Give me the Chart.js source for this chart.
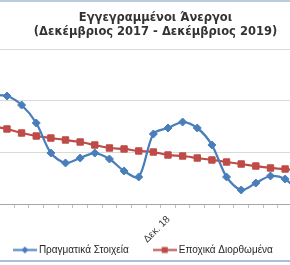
<!DOCTYPE html>
<html lang="el">
<head>
<meta charset="utf-8">
<title>Εγγεγραμμένοι Άνεργοι</title>
<script src="https://cdn.jsdelivr.net/npm/chart.js@4.4.1/dist/chart.umd.min.js"></script>
<style>
    html, body { margin: 0; padding: 0; background: #fff; }
    body { width: 290px; height: 265px; overflow: hidden; }
    .frame {
        position: relative;
        width: 290px;
        height: 258px;
        overflow: hidden;
        border-top: 2px solid #bccbdc;
        border-bottom: 2px solid #a9c0da;
    }
    #unemployedChart { position: absolute; left: -40px; top: 0; }
</style>
</head>
<body>
<div class="frame"><canvas id="unemployedChart" width="391" height="263"></canvas></div>
<script>
// Μήνες Δεκ. 2017 - Δεκ. 2019
const MONTH_LABELS = [
    'Δεκ. 17', 'Ιαν. 18', 'Φεβ. 18', 'Μαρ. 18', 'Απρ. 18', 'Μάι. 18', 'Ιουν. 18',
    'Ιουλ. 18', 'Αυγ. 18', 'Σεπ. 18', 'Οκτ. 18', 'Νοε. 18', 'Δεκ. 18', 'Ιαν. 19',
    'Φεβ. 19', 'Μαρ. 19', 'Απρ. 19', 'Μάι. 19', 'Ιουν. 19', 'Ιουλ. 19', 'Αυγ. 19',
    'Σεπ. 19', 'Οκτ. 19', 'Νοε. 19', 'Δεκ. 19',
];

// Πραγματικά Στοιχεία
const ACTUAL_VALUES = [
    1011000, 1009000, 991600, 956800, 898700, 879400, 889000,
    898700, 887100, 863900, 852300, 935500, 947100, 958700,
    947100, 914200, 852300, 827100, 840600, 854200, 848400,
    823200, 815500, 894800, 908400,
];

// Εποχικά Διορθωμένα
const SEASONAL_VALUES = [
    951000, 945200, 937400, 931600, 927700, 923900, 920000,
    914200, 908400, 906500, 902600, 900600, 894800, 892900,
    889000, 885200, 881300, 877400, 873500, 869700, 867700,
    863900, 861900, 858100, 856100,
];

const Y_TICK_VALUES = [800000, 900000, 1000000, 1100000];
const X_TICK_LABELS = ['Δεκ. 18'];

const BLUE = '#4a7ebb';
const RED = '#be4b48';
const FONT_FAMILY = '"Liberation Sans", Arial, sans-serif';

function makeLegendSymbol(color, marker) {
    const c = document.createElement('canvas');
    c.width = 24;
    c.height = 9;
    const ctx = c.getContext('2d');
    ctx.strokeStyle = color;
    ctx.lineWidth = 2;
    ctx.beginPath();
    ctx.moveTo(0, 4.5);
    ctx.lineTo(24, 4.5);
    ctx.stroke();
    ctx.fillStyle = color;
    ctx.beginPath();
    if (marker === 'diamond') {
        ctx.moveTo(12, 1);
        ctx.lineTo(15.5, 4.5);
        ctx.lineTo(12, 8);
        ctx.lineTo(8.5, 4.5);
    } else {
        ctx.rect(9, 1.5, 6, 6);
    }
    ctx.fill();
    return c;
}

const legendSymbols = [makeLegendSymbol(BLUE, 'diamond'), makeLegendSymbol(RED, 'square')];

const canvas = document.getElementById('unemployedChart');

new Chart(canvas.getContext('2d'), {
    type: 'line',
    data: {
        labels: MONTH_LABELS,
        datasets: [
            {
                label: 'Πραγματικά Στοιχεία',
                data: ACTUAL_VALUES,
                borderColor: BLUE,
                backgroundColor: BLUE,
                borderWidth: 2.25,
                pointStyle: 'rectRot',
                pointRadius: 4,
                pointBorderWidth: 1,
                tension: 0.3,
            },
            {
                label: 'Εποχικά Διορθωμένα',
                data: SEASONAL_VALUES,
                borderColor: RED,
                backgroundColor: RED,
                borderWidth: 2.25,
                pointStyle: 'rect',
                pointRadius: 4.5,
                pointBorderWidth: 1,
                tension: 0.3,
            },
        ],
    },
    options: {
        responsive: false,
        animation: false,
        layout: {autoPadding: false, padding: 0},
        plugins: {
            tooltip: {enabled: false},
            title: {
                display: true,
                text: ['Εγγεγραμμένοι Άνεργοι', '(Δεκέμβριος 2017 - Δεκέμβριος 2019)'],
                color: '#333333',
                font: {family: '"DejaVu Sans", Verdana, sans-serif', size: 11.5, weight: 'bold', lineHeight: '14px'},
                padding: {top: 9, bottom: 10},
            },
            legend: {
                position: 'bottom',
                labels: {
                    usePointStyle: true,
                    pointStyleWidth: 18,
                    padding: 27,
                    color: '#262626',
                    font: {family: FONT_FAMILY, size: 10},
                    generateLabels: (chart) => {
                        const items = Chart.defaults.plugins.legend.labels.generateLabels(chart);
                        items.forEach((item, i) => {
                            item.pointStyle = legendSymbols[i];
                        });
                        // хвостовые пробелы сдвигают легенду влево, как в оригинале
                        items[items.length - 1].text += '        ';
                        return items;
                    },
                },
            },
        },
        scales: {
            x: {
                offset: true,
                afterFit: (scale) => {
                    scale.height = 14;
                },
                grid: {
                    offset: true,
                    drawOnChartArea: false,
                    drawTicks: true,
                    tickLength: 4,
                    color: '#bfbfbf',
                },
                border: {color: '#a6a6a6'},
                ticks: {
                    autoSkip: false,
                    minRotation: 45,
                    maxRotation: 45,
                    // mirror + отрицательный padding: подпись уходит вниз и не обрезается по высоте оси
                    mirror: true,
                    padding: -18,
                    labelOffset: 9,
                    color: '#333333',
                    font: {family: FONT_FAMILY, size: 10},
                    callback: (value, index) => (X_TICK_LABELS.includes(MONTH_LABELS[index]) ? MONTH_LABELS[index] : ''),
                },
            },
            y: {
                min: Y_TICK_VALUES[0],
                max: Y_TICK_VALUES[Y_TICK_VALUES.length - 1],
                afterFit: (scale) => {
                    scale.width = 25;
                },
                afterBuildTicks: (scale) => {
                    scale.ticks = Y_TICK_VALUES.map((v) => ({value: v}));
                },
                grid: {color: '#d9d9d9', drawTicks: false},
                border: {display: false},
                ticks: {display: false},
            },
        },
    },
});
</script>
</body>
</html>
